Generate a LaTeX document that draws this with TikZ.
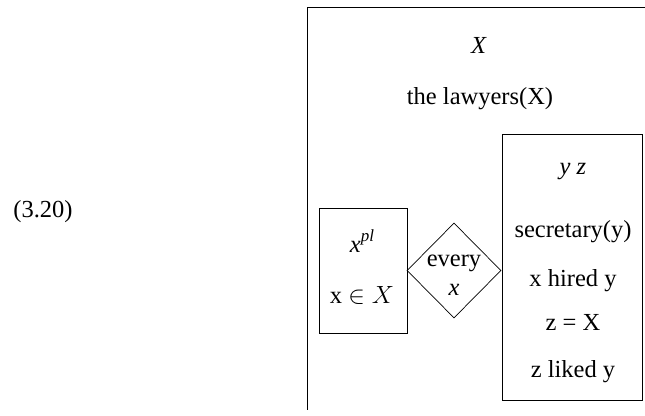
\documentclass[tikz,border=0pt]{standalone}
\usepackage{fontspec}
\setmainfont{Liberation Serif}
\usetikzlibrary{shapes.geometric}
\begin{document}
\begin{tikzpicture}[x=1pt,y=-1pt,
  box/.style={draw,line width=0.7pt,rectangle,inner sep=0pt},
  dia/.style={draw,line width=0.7pt,diamond,inner sep=0pt,minimum width=94pt,minimum height=95pt},
  txt/.style={inner sep=0pt,font=\fontsize{24.5}{28}\selectfont}]
\useasboundingbox (0,0) rectangle (645,415);
\draw[line width=0.7pt] (646,7) -- (307,7) -- (307,410);
\node[box,minimum width=88pt,minimum height=125pt] (lbox) at (363,270.5) {};
\node[dia] (dm) at (454,270.5) {};
\node[box,minimum width=140pt,minimum height=266pt] (rbox) at (572,267) {};
\node[txt] (num) at (43,212) {(3.20)};
\node[txt] (bigX) at (479,45) {\textit{X}};
\node[txt] (law) at (480,99) {the lawyers(X)};
\node[txt] (xpl) at (362,241) {\textit{x}\raisebox{0.45em}{\fontsize{17}{20}\selectfont\textit{pl}}};
\node[txt] (xin) at (362,295) {x $\in X$};
\node[txt] (every) at (454,263) {every};
\node[txt] (xx) at (454,290) {\textit{x}};
\node[txt] (yz) at (573,172) {\textit{y z}};
\node[txt] (sec) at (573,232) {secretary(y)};
\node[txt] (hired) at (573,281) {x hired y};
\node[txt] (zx) at (573,322) {z = X};
\node[txt] (liked) at (573,372) {z liked y};
\end{tikzpicture}
\end{document}
